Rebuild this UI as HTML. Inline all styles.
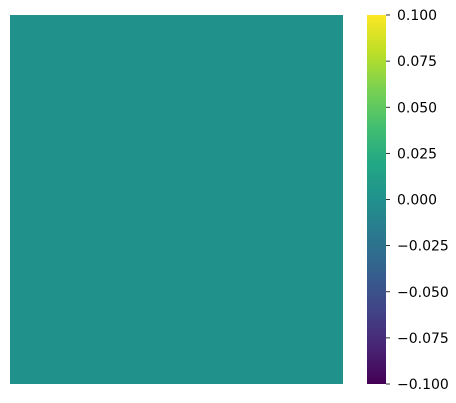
<!DOCTYPE html>
<html><head><meta charset="utf-8"><style>
html,body{margin:0;padding:0;background:#fff;width:456px;height:403px;overflow:hidden}
svg{display:block}
text{font-family:"DejaVu Sans","Liberation Sans",sans-serif;font-size:14px;fill:#000}
</style></head><body>
<svg id="chart" width="456" height="403">
<defs>
<linearGradient id="vir" x1="0" y1="1" x2="0" y2="0">
<stop offset="0" stop-color="#440154"/><stop offset="0.1" stop-color="#482475"/>
<stop offset="0.2" stop-color="#414487"/><stop offset="0.3" stop-color="#355f8d"/>
<stop offset="0.4" stop-color="#2a788e"/><stop offset="0.5" stop-color="#21918c"/>
<stop offset="0.6" stop-color="#22a884"/><stop offset="0.7" stop-color="#44bf70"/>
<stop offset="0.8" stop-color="#7ad151"/><stop offset="0.9" stop-color="#bddf26"/>
<stop offset="1" stop-color="#fde725"/>
</linearGradient>
</defs>
</svg>
<script>
const rows = [0];
const cols = [0];
const values = [[0]];
const vmin = -0.1, vmax = 0.1;
const tickValues = [0.1, 0.075, 0.05, 0.025, 0, -0.025, -0.05, -0.075, -0.1];
const tickLabels = ["0.100","0.075","0.050","0.025","0.000","\u22120.025","\u22120.050","\u22120.075","\u22120.100"];

const svg = document.getElementById('chart');
const NS = 'http://www.w3.org/2000/svg';
const hm = {x0:10, y0:15, x1:343, y1:384};
const cb = {x0:367, y0:15, x1:386, y1:384};
const stops = ["#440154","#482475","#414487","#355f8d","#2a788e","#21918c","#22a884","#44bf70","#7ad151","#bddf26","#fde725"];
function hex(c){return [1,3,5].map(i=>parseInt(c.substr(i,2),16));}
function viridis(v){
  let t=(v-vmin)/(vmax-vmin); t=Math.max(0,Math.min(1,t));
  const p=t*10, i=Math.min(9,Math.floor(p)), f=p-i;
  const a=hex(stops[i]), b=hex(stops[i+1]);
  return 'rgb('+a.map((x,k)=>Math.round(x+(b[k]-x)*f)).join(',')+')';
}
const cw=(hm.x1-hm.x0)/cols.length, ch=(hm.y1-hm.y0)/rows.length;
rows.forEach((r,ri)=>cols.forEach((c,ci)=>{
  const el=document.createElementNS(NS,'rect');
  el.setAttribute('x',hm.x0+ci*cw); el.setAttribute('y',hm.y0+ri*ch);
  el.setAttribute('width',cw); el.setAttribute('height',ch);
  el.setAttribute('fill',viridis(values[ri][ci]));
  
  
  svg.appendChild(el);
}));
const bar=document.createElementNS(NS,'rect');
bar.setAttribute('x',cb.x0); bar.setAttribute('y',cb.y0);
bar.setAttribute('width',cb.x1-cb.x0); bar.setAttribute('height',cb.y1-cb.y0);
bar.setAttribute('fill','url(#vir)');


svg.appendChild(bar);
function cy(v){return cb.y1-(v-vmin)/(vmax-vmin)*(cb.y1-cb.y0);}
tickValues.forEach((v,i)=>{
  const y=cy(v);
  const l=document.createElementNS(NS,'line');
  l.setAttribute('x1',cb.x1); l.setAttribute('x2',cb.x1+4);
  l.setAttribute('y1',y); l.setAttribute('y2',y);
  l.setAttribute('stroke','#000'); l.setAttribute('stroke-width','0.8');
  
  
  svg.appendChild(l);
  const t=document.createElementNS(NS,'text');
  t.setAttribute('x',cb.x1+11); t.setAttribute('y',y+5);
  t.textContent=tickLabels[i];
  
  
  svg.appendChild(t);
});
</script>
</body></html>
